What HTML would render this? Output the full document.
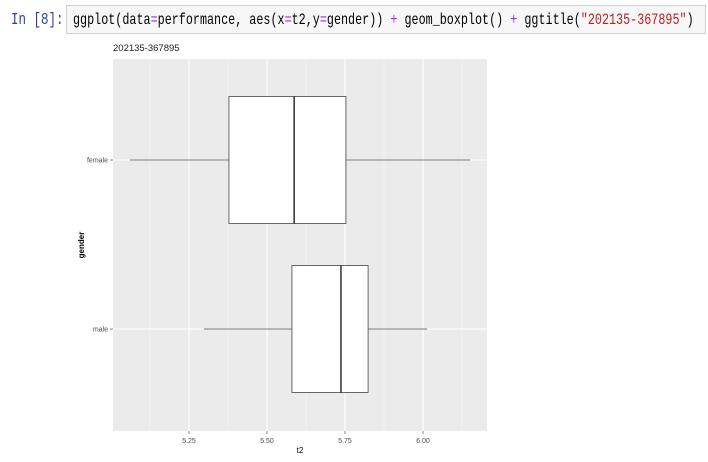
<!DOCTYPE html>
<html><head><meta charset="utf-8"><style>
body{margin:0;width:708px;height:462px;background:#fff;overflow:hidden;position:relative;font-family:"Liberation Sans",sans-serif}
#prompt{position:absolute;left:11px;top:11px;color:#303f9f;font:12.5px "Liberation Mono",monospace;transform:scaleY(1.3);transform-origin:0 0;white-space:pre}
#cell{position:absolute;left:66px;top:5px;width:640px;height:29px;border:1px solid #cfcfcf;background:#f7f7f7;box-sizing:border-box;overflow:hidden}
#code{position:absolute;left:6px;top:5px;font:11.75px "Liberation Mono",monospace;color:#000;white-space:pre;transform:scaleY(1.3);transform-origin:0 0}
.op{color:#aa22ff}.st{color:#ba2121}
</style></head><body>
<div id="prompt">In [8]:</div>
<div id="cell"><div id="code">ggplot(data<span class="op">=</span>performance, aes(x<span class="op">=</span>t2,y<span class="op">=</span>gender)) <span class="op">+</span> geom_boxplot() <span class="op">+</span> ggtitle(<span class="st">"202135-367895"</span>)</div></div>
<svg id="chart" width="708" height="462" style="position:absolute;left:0;top:0"></svg>
<script>
const categories=["female","male"];
const lowerWhisker=[5.061,5.298];
const q1=[5.378,5.580];
const medians=[5.587,5.737];
const q3=[5.753,5.824];
const upperWhisker=[6.151,6.013];
const xTicks=[5.25,5.5,5.75,6.0];
const xTickLabels=["5.25","5.50","5.75","6.00"];
const NS="http://www.w3.org/2000/svg";
const svg=document.getElementById('chart');
const P={l:113,r:487,t:59,b:431};
const x=v=>189+(v-5.25)*312;
const y=i=>160+i*169;
function mk(t,a,parent){const e=document.createElementNS(NS,t);for(const k in a)e.setAttribute(k,a[k]);(parent||svg).appendChild(e);return e;}
const panel=mk('rect',{x:P.l,y:P.t,width:P.r-P.l,height:P.b-P.t,fill:'#ebebeb'});


for(let i=0;i<xTicks.length+1;i++){const v=xTicks[0]-0.125+i*0.25;const X=x(v);if(X>P.l&&X<P.r){const g=mk('line',{x1:X,x2:X,y1:P.t,y2:P.b,stroke:'#f5f5f5','stroke-width':0.6});}}
xTicks.forEach((v,i)=>{const X=x(v);
const g=mk('line',{x1:X,x2:X,y1:P.t,y2:P.b,stroke:'#fff','stroke-width':1.1});


mk('line',{x1:X,x2:X,y1:P.b,y2:P.b+3,stroke:'#333','stroke-width':0.6});
const t=mk('text',{x:X,y:P.b+12,'font-size':7,fill:'#4d4d4d','text-anchor':'middle'});t.textContent=xTickLabels[i];

});
categories.forEach((c,i)=>{const Y=y(i);
const g=mk('line',{x1:P.l,x2:P.r,y1:Y,y2:Y,stroke:'#fff','stroke-width':1.1});


mk('line',{x1:P.l-3,x2:P.l,y1:Y,y2:Y,stroke:'#333','stroke-width':0.6});
const t=mk('text',{x:P.l-5,y:Y+2.5,'font-size':7,fill:'#4d4d4d','text-anchor':'end'});t.textContent=c;


const h=63.5;
const w1=mk('line',{x1:x(lowerWhisker[i]),x2:x(q1[i]),y1:Y,y2:Y,stroke:'#555','stroke-width':0.8});


const w2=mk('line',{x1:x(q3[i]),x2:x(upperWhisker[i]),y1:Y,y2:Y,stroke:'#555','stroke-width':0.8});


const b=mk('rect',{x:x(q1[i]),y:Y-h,width:x(q3[i])-x(q1[i]),height:2*h,fill:'#fff',stroke:'#444','stroke-width':0.8});


const m=mk('line',{x1:x(medians[i]),x2:x(medians[i]),y1:Y-h,y2:Y+h,stroke:'#222','stroke-width':1.4});

});
const tt=mk('text',{x:P.l,y:51,'font-size':9.5,fill:'#222'});tt.textContent='202135-367895';


const xl=mk('text',{x:(P.l+P.r)/2,y:453,'font-size':8,fill:'#000','text-anchor':'middle'});xl.textContent='t2';


const yl=mk('text',{x:0,y:0,'font-size':8,'font-weight':'bold',fill:'#000','text-anchor':'middle',transform:'translate(84,245) rotate(-90)'});yl.textContent='gender';


</script>
</body></html>
